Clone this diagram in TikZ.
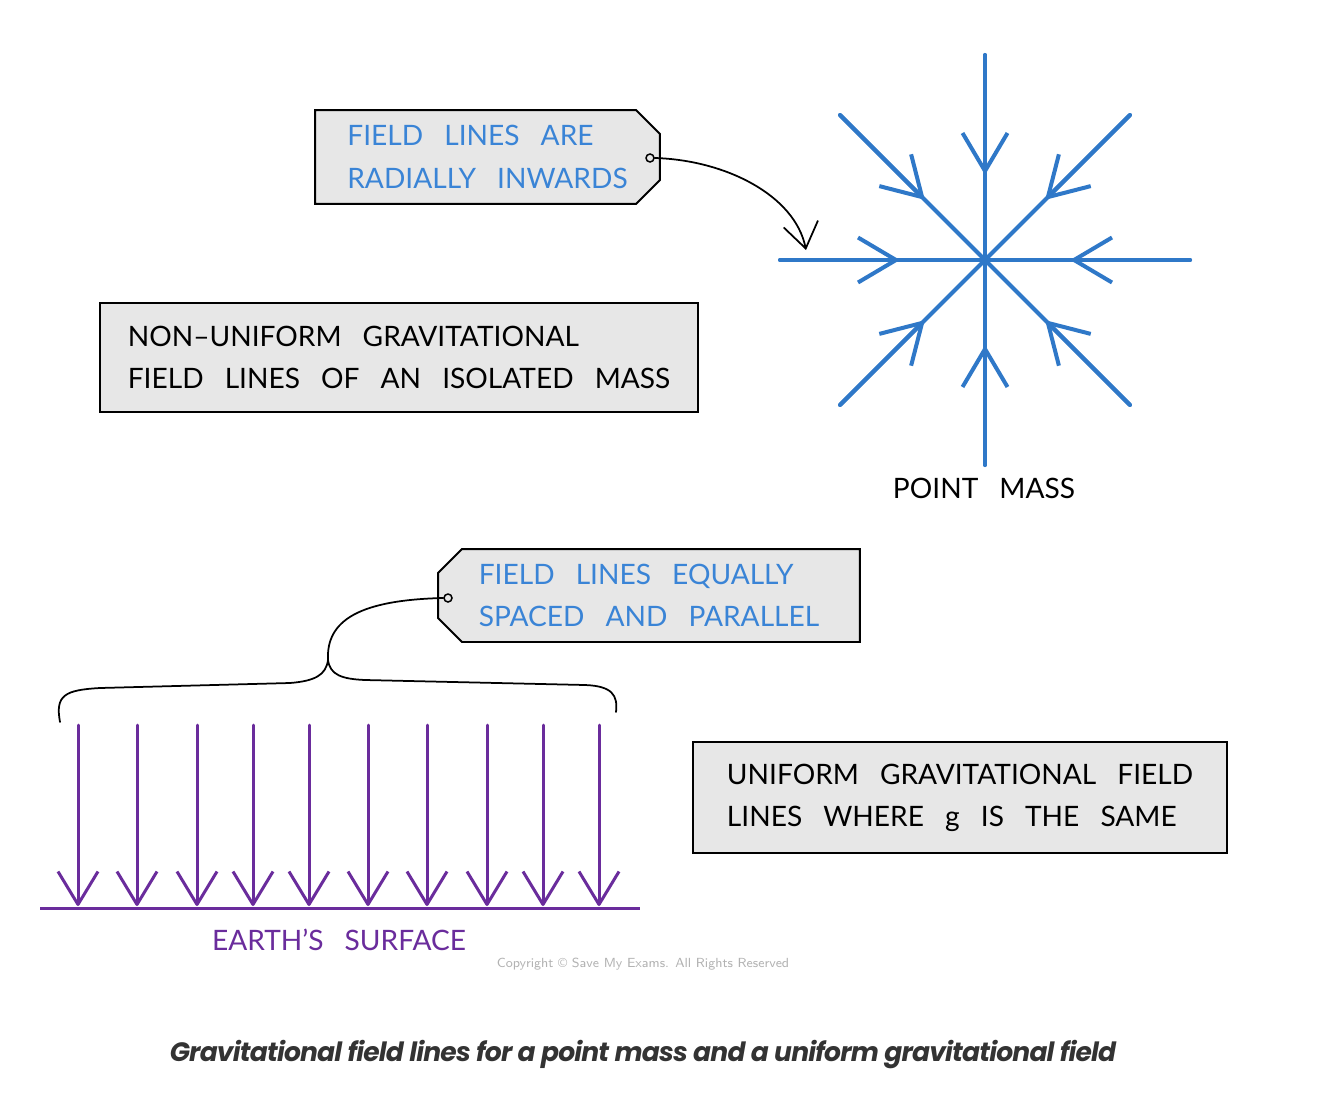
\documentclass[tikz,border=0pt]{standalone}
\usepackage{fontspec}
\usetikzlibrary{positioning, calc, arrows.meta, shapes.misc}

\newfontfamily\handfont{Lato}
\newfontfamily\capfont[LetterSpace=-3]{Poppins}

\definecolor{fieldblue}{HTML}{2F78C8}
\definecolor{labelblue}{HTML}{3A84D6}
\definecolor{fieldpurple}{HTML}{6A2C9C}
\definecolor{boxgrey}{HTML}{E7E7E7}
\definecolor{capgrey}{HTML}{333333}

\tikzset{
    hand/.style={font=\handfont\fontsize{16}{24}\selectfont,
        execute at begin node={\spaceskip=0.75em\relax}},
    infobox/.style={hand, draw=black, line width=0.04cm, fill=boxgrey, rectangle,
        align=left, inner sep=0pt},
    tagbox/.style={infobox, chamfered rectangle, chamfered rectangle xsep=0.24cm,
        chamfered rectangle ysep=0.24cm, text=labelblue},
    radial/.style={draw=fieldblue, line width=0.08cm, line cap=round},
    radialhead/.style={radial, -{Straight Barb[length=0.76cm, width=0.9cm, line join=round]}},
    uniform/.style={draw=fieldpurple, line width=0.06cm, line cap=round,
        -{Straight Barb[length=0.66cm, width=0.8cm, line join=round]}},
    pointer/.style={draw=black, line width=0.035cm, line cap=round}
}

\begin{document}
\begin{tikzpicture}[x=0.02cm, y=-0.02cm]
    \useasboundingbox[fill=white] (0,0) rectangle (1334,1095);

    % Point mass (radial field)
    \coordinate (mass) at (985,260);
    \foreach \a in {0,45,...,315} {
        \draw[radial] (mass) -- ++(\a:205);
        \draw[radialhead] ($(mass)+(\a:205)$) -- ($(mass)+(\a:87)$);
    }
    \node[hand] (masslabel) at (984,488) {POINT MASS};

    % Label boxes
    \node[tagbox, chamfered rectangle corners={north east, south east},
        minimum width=6.9cm, minimum height=1.88cm] (radialtag) at (487.5,157)
        {FIELD LINES ARE\\RADIALLY INWARDS};
    \node[infobox, minimum width=11.96cm, minimum height=2.18cm] (radialnote)
        at (399,357.5) {NON\textendash UNIFORM GRAVITATIONAL\\FIELD LINES OF AN ISOLATED MASS};
    \node[tagbox, chamfered rectangle corners={north west, south west},
        minimum width=8.44cm, minimum height=1.86cm] (uniformtag) at (649,595.5)
        {FIELD LINES EQUALLY\\SPACED AND PARALLEL};
    \node[infobox, minimum width=10.68cm, minimum height=2.22cm] (uniformnote)
        at (960,797.5) {UNIFORM GRAVITATIONAL FIELD\\LINES WHERE g IS THE SAME};

    % Pointer from the top tag
    \node[circle, draw=black, line width=0.03cm, fill=boxgrey, inner sep=0pt,
        minimum size=0.16cm] (radialpin) at (650,158) {};
    \coordinate (radialend) at (806,250);
    \draw[pointer, -{Straight Barb[length=0.5cm, width=0.7cm]}] (radialpin.east)
        .. controls (725,160) and (795,195) .. (radialend);

    % Uniform field
    \coordinate (surfL) at (40,908);
    \coordinate (surfR) at (640,908);
    \foreach \x in {78,137,197,253,309,368,427,487,543,599}
        \draw[uniform] (\x,725) -- (\x,906);
    \draw[draw=fieldpurple, line width=0.06cm] (surfL) -- (surfR);
    \node[hand, text=fieldpurple] (surface) at (339,940) {EARTH’S SURFACE};

    % Brace and pointer from the lower tag
    \coordinate (bracetip) at (328,660);
    \node[circle, draw=black, line width=0.03cm, fill=boxgrey, inner sep=0pt,
        minimum size=0.16cm] (uniformpin) at (448,598) {};
    \draw[pointer] (60,722) .. controls (55,695) and (65,690) .. (100,688)
        -- (290,683) .. controls (315,681) and (326,675) .. (bracetip)
        .. controls (330,675) and (342,679) .. (365,680)
        -- (585,685) .. controls (612,686) and (618,695) .. (616,712);
    \draw[pointer] (bracetip) .. controls (326,620) and (360,600) .. (uniformpin.west);

    % Watermark and caption
    \node[font=\sffamily\fontsize{7.5}{9}\selectfont, text=black!30] (copyright)
        at (643,964) {Copyright \textcopyright{} Save My Exams. All Rights Reserved};
    \node[font=\capfont\bfseries\itshape\fontsize{15.1}{18}\selectfont, text=capgrey] (caption)
        at (643,1055) {Gravitational field lines for a point mass and a uniform gravitational field};
\end{tikzpicture}
\end{document}
